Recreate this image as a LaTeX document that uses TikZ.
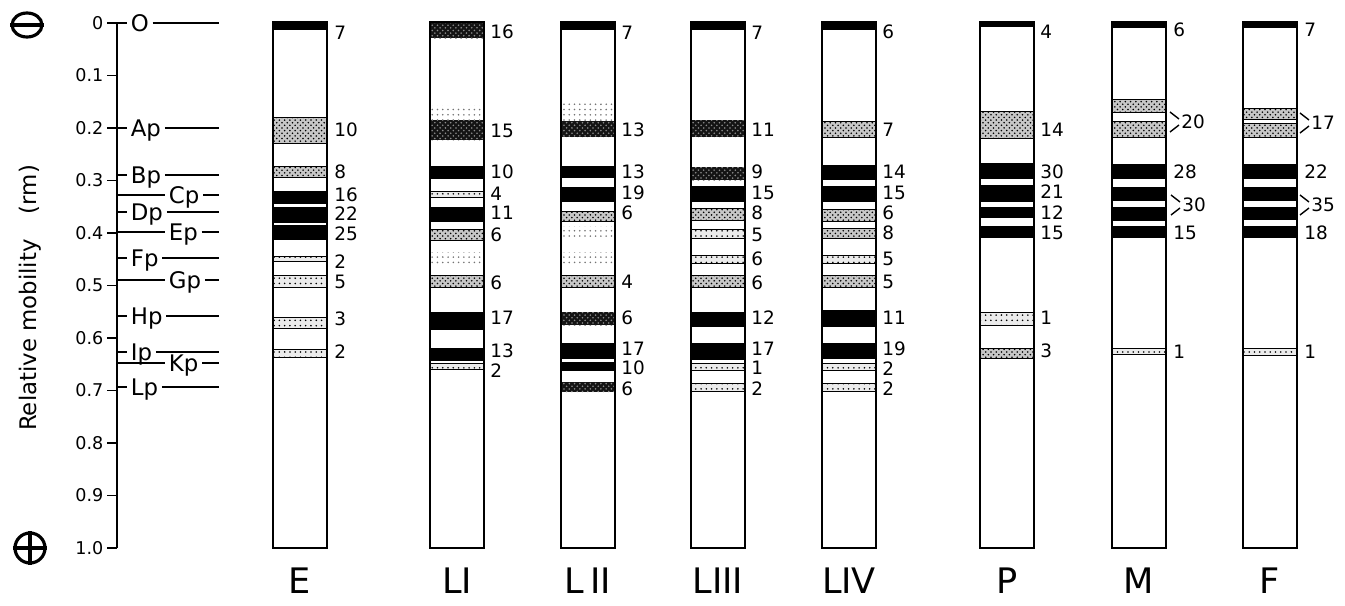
\documentclass[tikz,border=0pt]{standalone}
\usepackage{fontspec}
\setmainfont{DejaVu Sans}
\usetikzlibrary{patterns,shapes.geometric,positioning}

\tikzset{
  bblk/.style={fill=black},
  dstip/.style={fill=black!92, postaction={pattern=crosshatch dots, pattern color=black!45}},
  stip/.style={draw, line width=0.4pt, fill=black!22, postaction={pattern=crosshatch dots, pattern color=black}},
  lstip/.style={draw, line width=0.4pt, fill=black!8, postaction={pattern=dots, pattern color=black}},
  haze/.style={pattern=dots, pattern color=black!55},
  lanebox/.style={draw, line width=1pt},
  axisline/.style={line width=1.1pt},
  sign/.style={draw, line width=1.8pt, inner sep=0pt},
  num/.style={anchor=west, inner sep=0pt, font=\fontsize{10.5}{13}\selectfont, text height=7.65pt, text depth=0pt},
  rmlabel/.style={anchor=west, inner xsep=2pt, inner ysep=0pt, font=\fontsize{13}{15}\selectfont, text height=9.5pt, text depth=0pt},
  ticklabel/.style={anchor=east, inner sep=1.5pt, font=\fontsize{10}{12}\selectfont, text height=7.3pt, text depth=0pt},
  lanelabel/.style={inner sep=0pt, font=\fontsize{20}{22}\selectfont, text height=14.6pt, text depth=0pt},
}

\begin{document}
\begin{tikzpicture}[x=0.02cm, y=-0.02cm]
\useasboundingbox (0,0) rectangle (1345,605);

% charge signs
\node[sign, ellipse, minimum width=0.6cm, minimum height=0.48cm] (minus) at (27,25) {};
\draw[line width=1.8pt] (minus.west) -- (minus.east);
\node[sign, circle, minimum size=0.6cm] (plus) at (30,548) {};
\draw[line width=1.8pt] (plus.west) -- (plus.east) (plus.north) -- (plus.south);

% axis
\coordinate (ax0) at (117,23);
\coordinate (ax10) at (117,548);
\draw[axisline] (ax0) -- (ax10);
\foreach \i/\t in {0/0, 1/0.1, 2/0.2, 3/0.3, 4/0.4, 5/0.5, 6/0.6, 7/0.7, 8/0.8, 9/0.9, 10/1.0} {
  \coordinate (tk\i) at (117,{23+52.5*\i});
  \draw[axisline] (tk\i) -- ++(-10,0) node[ticklabel] (tl\i) {\t};
}
\node[rotate=90, font=\fontsize{13}{15}\selectfont] (ytitle) at (30,298) {Relative mobility\hspace{1.1em}(rm)};

% marker proteins
\coordinate (rgt) at (219,0);
\foreach \nm/\x/\y in {O/127/23, Ap/127/128, Bp/127/175, Cp/165/195, Dp/127/212, Ep/165/232,
    Fp/127/258, Gp/165/280, Hp/127/316, Ip/127/352, Kp/165/363, Lp/127/387} {
  \node[rmlabel] (\nm) at (\x,\y) {\nm};
  \draw[axisline] (\nm.west -| ax0) -- (\nm.west);
  \draw[axisline] (\nm.east) -- (\nm.east -| rgt);
}

% lane E
\foreach \t/\b/\s in {22/30/bblk, 117/143/stip, 166/177/stip, 191/204/bblk, 207/223/bblk,
    225/240/bblk, 256/261/lstip, 275/287/lstip, 317/328/lstip, 349/357/lstip}
  \path[\s] (273,\t) rectangle (327,\b);
\foreach \y/\n [count=\i] in {33/7, 130/10, 172/8, 195/16, 214/22, 234/25, 262/2, 282/5, 319/3, 352/2}
  \node[num] (E\i) at (334,\y) {\n};

% lane LI
\foreach \t/\b/\s in {22/38/dstip, 105/119/haze, 120/140/dstip, 166/179/bblk, 191/197/lstip,
    207/222/bblk, 229/240/stip, 252/263/haze, 275/287/stip, 312/330/bblk, 348/361/bblk, 363/369/lstip}
  \path[\s] (430,\t) rectangle (484,\b);
\foreach \y/\n [count=\i] in {32/16, 131/15, 172/10, 194/4, 213/11, 235/6, 283/6, 318/17, 351/13, 371/2}
  \node[num] (LI\i) at (490,\y) {\n};

% lane LII
\foreach \t/\b/\s in {22/30/bblk, 103/120/haze, 121/137/dstip, 166/178/bblk, 187/202/bblk,
    211/221/stip, 226/239/haze, 252/264/haze, 275/287/stip, 312/325/dstip, 343/359/bblk,
    362/371/bblk, 382/392/dstip}
  \path[\s] (561,\t) rectangle (615,\b);
\foreach \y/\n [count=\i] in {33/7, 130/13, 172/13, 193/19, 213/6, 282/4, 318/6, 349/17, 368/10, 389/6}
  \node[num] (LII\i) at (621,\y) {\n};

% lane LIII
\foreach \t/\b/\s in {22/30/bblk, 120/137/dstip, 167/180/dstip, 186/202/bblk, 208/220/stip,
    229/238/lstip, 255/263/lstip, 275/287/stip, 312/327/bblk, 343/360/bblk, 363/370/lstip, 383/391/lstip}
  \path[\s] (691,\t) rectangle (745,\b);
\foreach \y/\n [count=\i] in {33/7, 130/11, 172/9, 193/15, 213/8, 235/5, 259/6, 283/6, 318/12, 349/17, 368/1, 389/2}
  \node[num] (LIII\i) at (751,\y) {\n};

% lane LIV
\foreach \t/\b/\s in {22/30/bblk, 121/137/stip, 165/180/bblk, 186/202/bblk, 209/221/stip,
    228/238/stip, 255/263/lstip, 275/287/stip, 310/327/bblk, 343/359/bblk, 363/370/lstip, 383/391/lstip}
  \path[\s] (822,\t) rectangle (876,\b);
\foreach \y/\n [count=\i] in {32/6, 130/7, 172/14, 193/15, 213/6, 233/8, 259/5, 282/5, 318/11, 349/19, 369/2, 389/2}
  \node[num] (LIV\i) at (882,\y) {\n};

% lane P
\foreach \t/\b/\s in {21/27/bblk, 111/138/stip, 163/179/bblk, 185/202/bblk, 207/218/bblk,
    226/238/bblk, 312/325/lstip, 348/358/stip}
  \path[\s] (980,\t) rectangle (1034,\b);
\foreach \y/\n [count=\i] in {32/4, 130/14, 172/30, 192/21, 213/12, 233/15, 318/1, 351/3}
  \node[num] (P\i) at (1040,\y) {\n};

% lane M
\foreach \t/\b/\s in {21/28/bblk, 99/112/stip, 121/137/stip, 164/179/bblk, 187/201/bblk,
    207/221/bblk, 226/238/bblk, 348/354/lstip}
  \path[\s] (1112,\t) rectangle (1166,\b);
\foreach \y/\n [count=\i] in {30/6, 172/28, 233/15, 352/1}
  \node[num] (M\i) at (1173,\y) {\n};
\node[num] (M20) at (1181,122) {20};
\node[num] (M30) at (1182,205) {30};

% lane F
\foreach \t/\b/\s in {21/28/bblk, 108/119/stip, 123/137/stip, 164/179/bblk, 187/201/bblk,
    207/220/bblk, 226/238/bblk, 348/355/lstip}
  \path[\s] (1243,\t) rectangle (1297,\b);
\foreach \y/\n [count=\i] in {30/7, 172/22, 233/18, 352/1}
  \node[num] (F\i) at (1304,\y) {\n};
\node[num] (F17) at (1311,123) {17};
\node[num] (F35) at (1311,205) {35};

% pairs joined by a bracket
\foreach \nd in {M20, M30, F17, F35} {
  \draw[line width=0.8pt] (\nd.west) ++(-2,-3) -- ++(-9,-7);
  \draw[line width=0.8pt] (\nd.west) ++(-2,3) -- ++(-9,7);
}

% lane outlines and names
\foreach \xl/\nm/\txt in {273/E/E, 430/LI/LI, 561/LII/L\,II, 691/LIII/LIII, 822/LIV/LIV,
    980/P/P, 1112/M/M, 1243/F/F} {
  \draw[lanebox] (\xl,22) rectangle ++(54,526);
  \node[lanelabel] (lab\nm) at (\xl+27,581) {\txt};
}
\end{tikzpicture}
\end{document}
